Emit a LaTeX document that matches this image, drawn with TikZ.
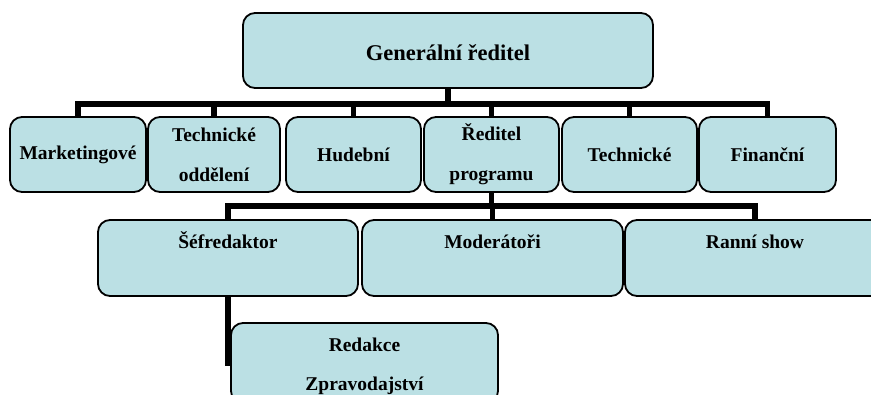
\documentclass[tikz,border=0pt]{standalone}
\usepackage{fontspec}
\setmainfont{Liberation Serif}
\usetikzlibrary{backgrounds}
\definecolor{boxfill}{RGB}{187,224,228}
\begin{document}
\begin{tikzpicture}[x=1pt,y=-1pt,
  box/.style={draw=black, line width=1.8pt, fill=boxfill, rounded corners=12pt, inner sep=0pt, align=center, font=\fontsize{19.5}{40}\selectfont\bfseries},
  conn/.style={draw=black, line width=5.5pt, line join=miter},
  lbl/.style={font=\fontsize{19.5}{24}\selectfont\bfseries, inner sep=0pt, anchor=base}]
\useasboundingbox (0,0) rectangle (871,394);
\clip (0,0) rectangle (871,394);
% level 0
\node[box, minimum width=410pt, minimum height=75pt] (gd) at (448,50.5) {};
\node[lbl, font=\fontsize{22.5}{27}\selectfont\bfseries] (gdl) at (448,60) {Generální ředitel};
% level 1
\node[box, minimum width=136pt, minimum height=75pt] (mkt) at (78,154.5) {Marketingové};
\node[box, minimum width=132pt, minimum height=75pt] (tech1) at (214,154.5) {Technické\\oddělení};
\node[box, minimum width=135pt, minimum height=75pt] (hud) at (353.5,154.5) {Hudební};
\node[box, minimum width=135pt, minimum height=75pt] (red) at (491.5,154.5) {Ředitel\\programu};
\node[box, minimum width=135pt, minimum height=75pt] (tech2) at (629.5,154.5) {Technické};
\node[box, minimum width=137pt, minimum height=75pt] (fin) at (767.5,154.5) {Finanční};
% level 2
\node[box, minimum width=260pt, minimum height=76pt] (sef) at (228,258) {};
\node[box, minimum width=261pt, minimum height=76pt] (mod) at (492.5,258) {};
\node[box, minimum width=260pt, minimum height=76pt] (ranni) at (755,258) {};
\node[lbl] (sefl) at (228,248) {Šéfredaktor};
\node[lbl] (modl) at (492.5,248) {Moderátoři};
\node[lbl] (rannil) at (755,248) {Ranní show};
% level 3
\node[box, minimum width=267pt, minimum height=80pt] (zpr) at (364.5,363) {};
\node[lbl] (zprl1) at (364.5,351) {Redakce};
\node[lbl] (zprl2) at (364.5,390) {Zpravodajství};
% connectors
\begin{pgfonlayer}{background}
\foreach \c in {mkt,tech1,hud,red,tech2,fin} \draw[conn] (gd.south) -- ++(0,15) -| (\c.north);
\foreach \c in {sef,mod,ranni} \draw[conn] (red.south) -- ++(0,13) -| (\c.north);
\draw[conn] (sef.south) |- (zpr.west);
\end{pgfonlayer}
\end{tikzpicture}
\end{document}
